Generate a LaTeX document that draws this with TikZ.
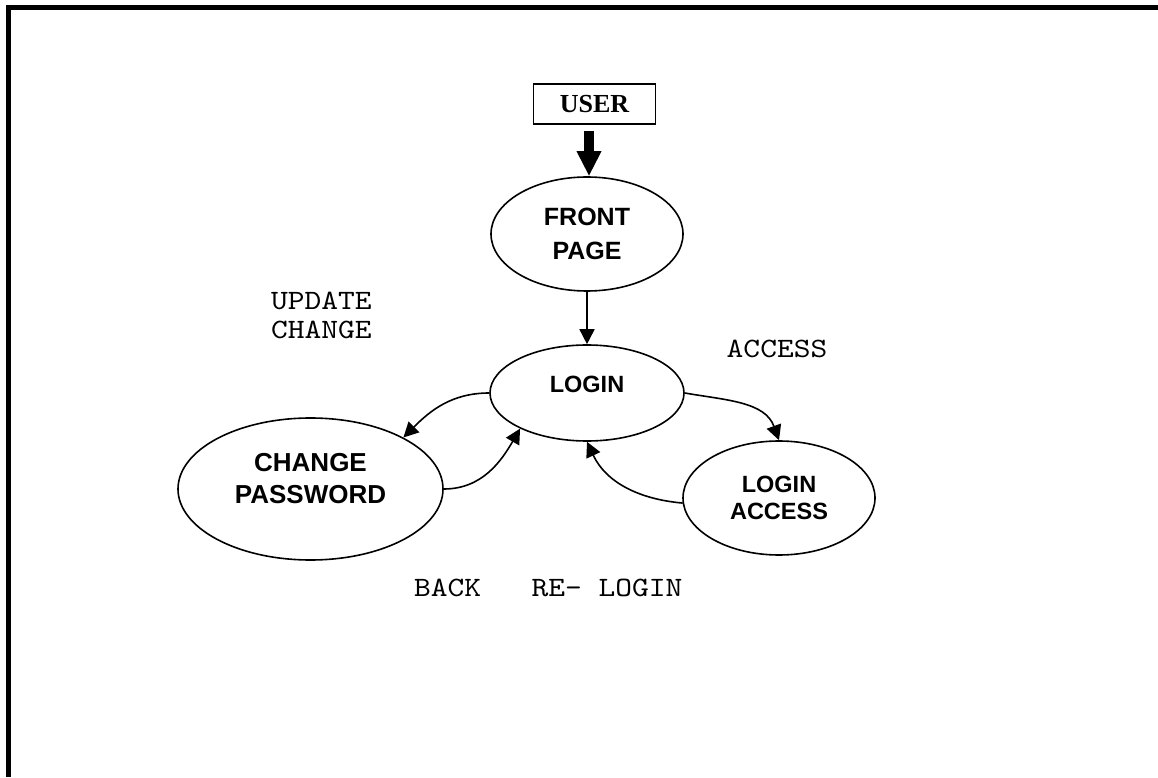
\documentclass[tikz,border=0pt]{standalone}
\usepackage{fontspec}
\setmainfont{Liberation Serif}
\setsansfont{Liberation Sans}
\newfontfamily\courfont{lmmono10-regular}[Extension=.otf,FakeStretch=1.14]
\usetikzlibrary{arrows.meta,shapes.geometric}

\begin{document}
\begin{tikzpicture}[x=1pt,y=1pt,
    state/.style={draw,ellipse,line width=1.6pt,inner sep=0pt,align=center,
      font=\sffamily\bfseries\fontsize{25}{34}\selectfont},
    flow/.style={-{Triangle[length=15pt,width=15pt]},line width=1.6pt},
    bigarrow/.style={-{Triangle[length=25pt,width=23pt]},line width=10pt},
    lbl/.style={inner sep=0pt,align=left,font=\courfont\fontsize{28}{29}\selectfont}]
    \useasboundingbox (0,0) rectangle (1158,777);
    \draw[line width=5pt] (8.5,0) -- (8.5,769.5) -- (1158,769.5);
    \node[draw,line width=1.6pt,minimum width=122pt,minimum height=40pt,
      font=\rmfamily\bfseries\fontsize{26}{30}\selectfont] (user) at (594.5,673) {USER};
    \node[state,minimum width=192pt,minimum height=114pt] (front) at (587,543) {FRONT\\PAGE};
    \node[state,minimum width=194pt,minimum height=96pt,font=\sffamily\bfseries\fontsize{23.5}{28}\selectfont,
      text depth=18pt] (login) at (587,384) {LOGIN};
    \node[state,minimum width=265pt,minimum height=142pt,font=\sffamily\bfseries\fontsize{26}{32}\selectfont,
      text depth=22pt] (chg) at (310.5,288) {CHANGE\\PASSWORD};
    \node[state,minimum width=192pt,minimum height=114pt,font=\sffamily\bfseries\fontsize{23.5}{27}\selectfont]
      (acc) at (779,279) {LOGIN\\ACCESS};
    \node[lbl,anchor=west] (upd) at (271,461.5) {UPDATE\\CHANGE};
    \node[lbl] (acclbl) at (777,428) {ACCESS};
    \node[lbl,anchor=west] (back) at (414,189) {BACK~~~RE-~LOGIN};
    \draw[bigarrow] ([xshift=-5.5pt,yshift=-6pt]user.south) -- ([xshift=2pt]front.north);
    \draw[flow] (front) -- (login);
    \draw[flow] (login.west) to[out=180,in=45] (chg.29);
    \draw[flow] (chg.east) to[out=0,in=240] (login.208);
    \draw[flow] (login.east) to[out=-10,in=110] (acc.north);
    \draw[flow] (acc.183) to[out=175,in=295] (login.south);
  \end{tikzpicture}
\end{document}
